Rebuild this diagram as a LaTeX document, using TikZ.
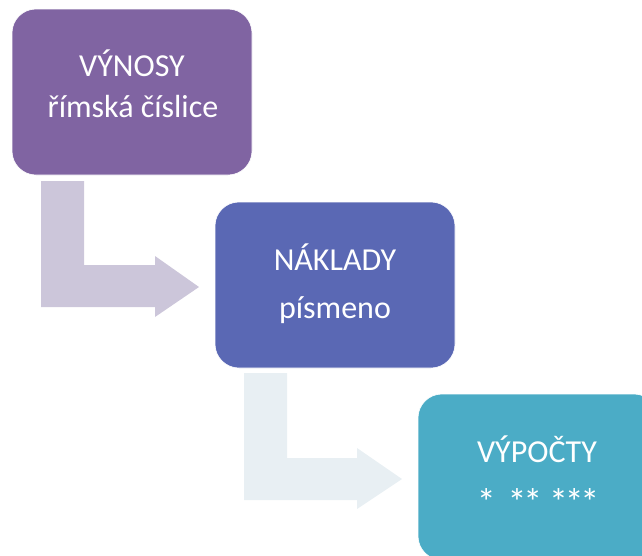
\documentclass[tikz,border=0pt]{standalone}
\usepackage{fontspec}
\setmainfont{Carlito}
\definecolor{cPurple}{HTML}{8064A2}
\definecolor{cBlue}{HTML}{5A68B4}
\definecolor{cTeal}{HTML}{4BACC6}
\definecolor{cArrowA}{HTML}{CCC6DA}
\definecolor{cArrowB}{HTML}{E8EFF3}
\tikzset{
  card/.style={draw=white, line width=0.6pt, rounded corners=24pt, minimum width=240pt, minimum height=166pt, inner sep=0pt, outer sep=0pt},
  lbl/.style={text=white, anchor=base, inner sep=0pt, font=\fontsize{32}{38}\selectfont}
}
\begin{document}
\begin{tikzpicture}[x=1pt,y=-1pt]
\useasboundingbox (0,0) rectangle (642,555);
\clip (0,0) rectangle (642,555);
% bent arrows
\fill[cArrowA] (41,181) -- (84,181) -- (84,265) -- (155,265) -- (155,256) -- (199,287) -- (155,317) -- (155,307) -- (41,307) -- cycle;
\fill[cArrowB] (244,373) -- (287,373) -- (287,458) -- (357,458) -- (357,448) -- (402,479) -- (357,509) -- (357,500) -- (244,500) -- cycle;
% boxes
\node[card, fill=cPurple, anchor=north west] (b1) at (12,9) {};
\node[card, fill=cBlue, anchor=north west] (b2) at (215,202) {};
\node[card, fill=cTeal, anchor=north west] (b3) at (418,394) {};
% labels
\node[lbl] (t1a) at (132,76) {VÝNOSY};
\node[lbl] (t1b) at (133,117) {římská číslice};
\node[lbl] (t2a) at (335,270) {NÁKLADY};
\node[lbl] (t2b) at (335,318) {písmeno};
\node[lbl] (t3a) at (537,462) {VÝPOČTY};
\node[lbl, font=\fontsize{38}{44}\selectfont] (t3b) at (538,515) {*\kern12pt*\kern-3.4pt*\kern7pt*\kern-3.4pt*\kern-3.4pt*};
\end{tikzpicture}
\end{document}
